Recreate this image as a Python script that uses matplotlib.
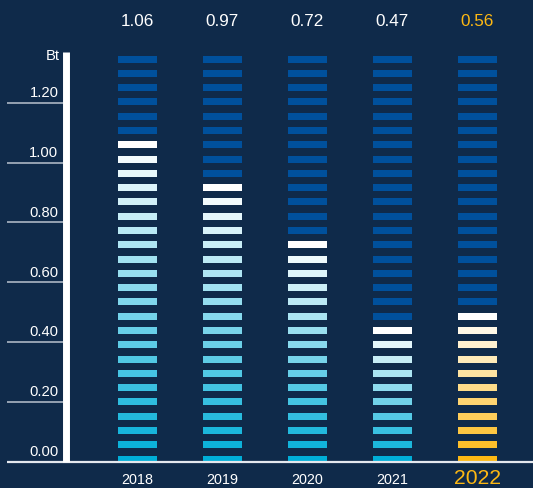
import matplotlib
matplotlib.use("Agg")
import matplotlib.pyplot as plt
import numpy as np
from matplotlib.colors import to_rgb

# ---- data ----
years = ["2018", "2019", "2020", "2021", "2022"]
values = [1.06, 0.97, 0.72, 0.47, 0.56]
value_labels = ["1.06", "0.97", "0.72", "0.47", "0.56"]
filled_segments = [23, 20, 16, 10, 11]
total_segments = 29
segment_step = 0.0478
y_ticks = [0.0, 0.2, 0.4, 0.6, 0.8, 1.0, 1.2]
y_tick_labels = ["0.00", "0.20", "0.40", "0.60", "0.80", "1.00", "1.20"]
unit_label = "Bt"
highlight_year = "2022"

# ---- style ----
BG = "#0f2a4a"
DARK = "#00509c"
CYAN = "#00aed8"
GOLD = "#fdb813"
WHITE = "#ffffff"
FONT = "Liberation Sans"

W, H = 533, 488
fig = plt.figure(figsize=(W / 100, H / 100), dpi=100, facecolor=BG)
ax = fig.add_axes([0, 0, 1, 1])
ax.set_facecolor(BG)

# pixel mapping helpers for limits
px_per_x = 85.0
x0_px = 137.5
px_per_y = 298.8
y0_from_bottom = H - 461.5
ax.set_xlim(-x0_px / px_per_x, (W - x0_px) / px_per_x)
ax.set_ylim(-y0_from_bottom / px_per_y, (H - y0_from_bottom) / px_per_y)
ax.axis("off")

def px_x(p):
    return (p - x0_px) / px_per_x

def px_dy(p):
    return p / px_per_y

seg_h = px_dy(7.0)
bar_w = 39.0 / px_per_x

for xi, (yr, nfill) in enumerate(zip(years, filled_segments)):
    base = np.array(to_rgb(GOLD if yr == highlight_year else CYAN))
    white = np.array([1.0, 1.0, 1.0])
    for i in range(total_segments):
        bottom = i * segment_step - px_dy(1.0)
        if i < nfill:
            t = i / (nfill - 1) if nfill > 1 else 1.0
            col = base * (1 - t) + white * t
        else:
            col = DARK
        ax.bar(xi, seg_h, width=bar_w, bottom=bottom, color=col,
               linewidth=0, zorder=2)
    is_hl = yr == highlight_year
    ax.text(xi, px_dy(H - 21.5 - y0_from_bottom), value_labels[xi],
            ha="center", va="center", color=GOLD if is_hl else WHITE,
            fontsize=12.3, family=FONT, zorder=4)
    ax.text(xi, -px_dy(478.5 - 461.5) if is_hl else -px_dy(480 - 461.5), yr,
            ha="center", va="center", color=GOLD if is_hl else WHITE,
            fontsize=15.2 if is_hl else 10.4, family=FONT, zorder=4)

# baseline
ax.plot([px_x(7), px_x(W)], [0, 0], color="#e4e8ee", linewidth=1.6,
        solid_capstyle="butt", zorder=3)

# y-axis vertical bar
axis_top = px_dy(461.5 - 51.7)
ax.plot([px_x(66.5), px_x(66.5)], [0, axis_top], color=WHITE, linewidth=5.0,
        solid_capstyle="butt", zorder=3)

# tick lines and labels
for yv, lab in zip(y_ticks, y_tick_labels):
    if yv > 0:
        ax.plot([px_x(7), px_x(63)], [yv, yv], color="#b9c2ce", linewidth=1.1,
                solid_capstyle="butt", zorder=3)
    ax.text(px_x(58.5), yv + px_dy(2.5), lab, ha="right", va="bottom",
            color=WHITE, fontsize=10.6, family=FONT, zorder=4)

ax.text(px_x(60), px_dy(461.5 - 56.5), unit_label, ha="right", va="center",
        color=WHITE, fontsize=10.6, family=FONT, zorder=4)

fig.savefig("out.png", dpi=100, facecolor=BG)
